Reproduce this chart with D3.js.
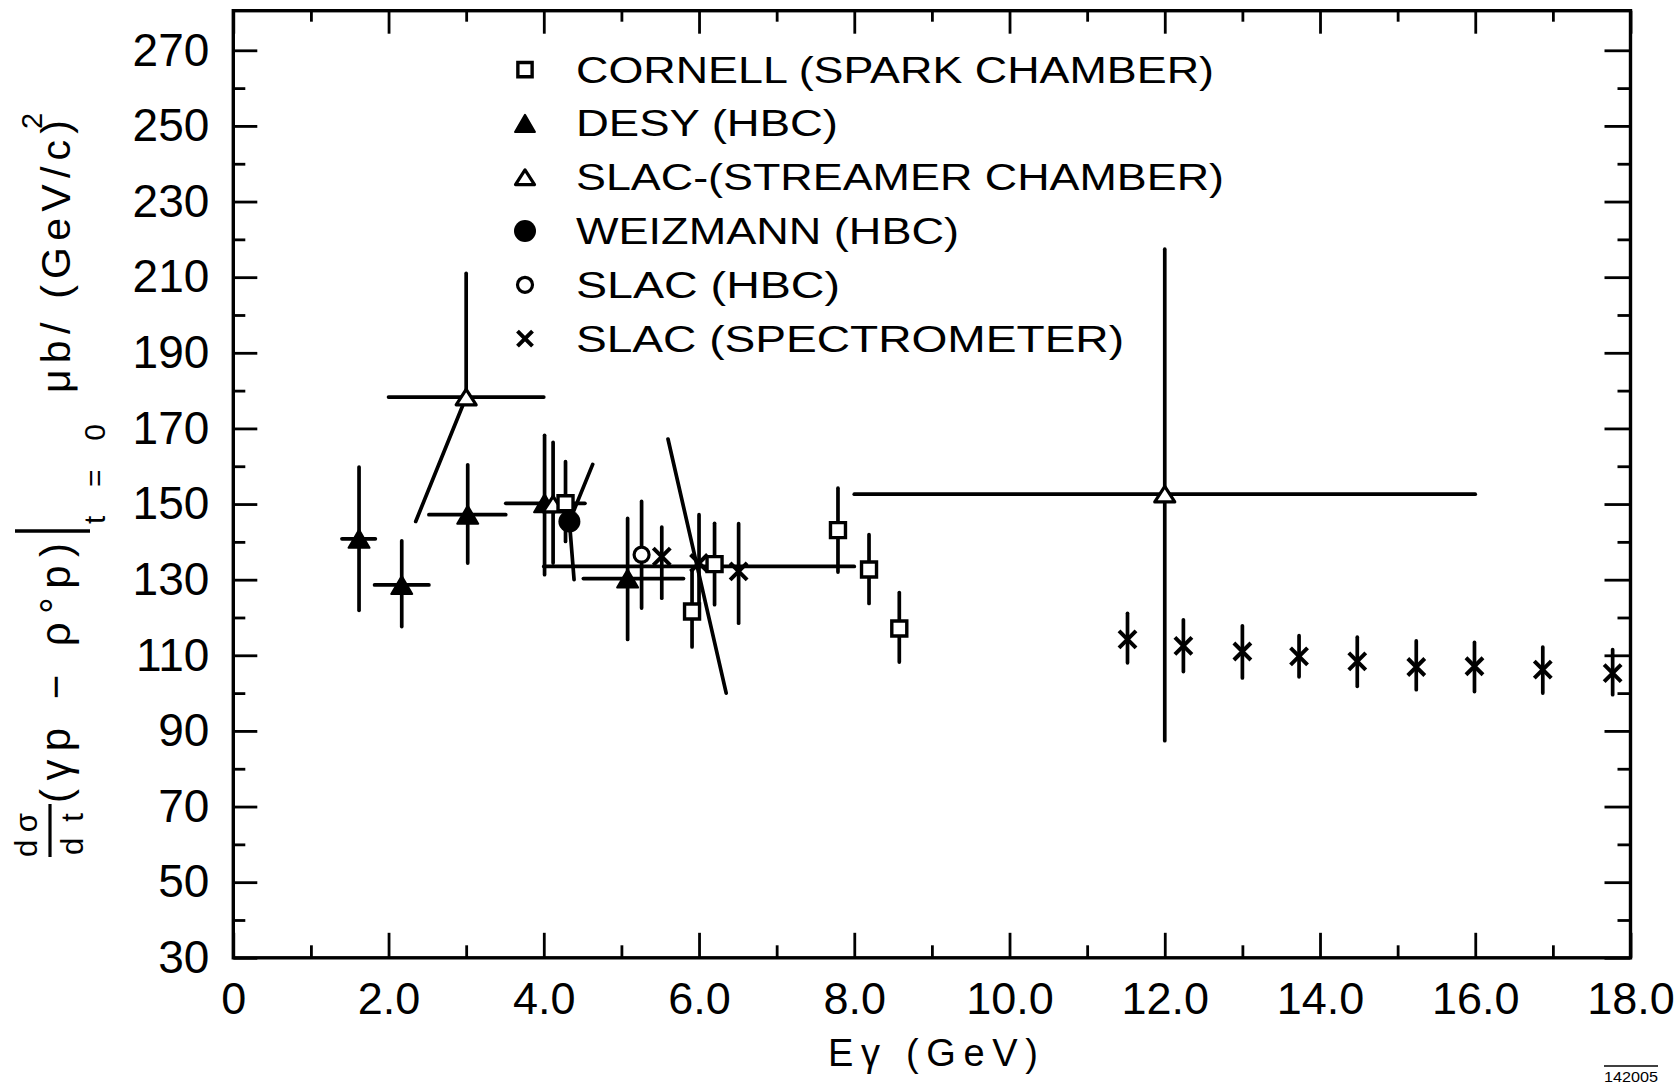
<!DOCTYPE html>
<html>
<head>
<meta charset="utf-8">
<script src="https://cdn.jsdelivr.net/npm/d3@7"></script>
<style>
  html, body { margin: 0; padding: 0; background: #fff; }
  svg { display: block; }
  text { font-family: "Liberation Sans", Arial, sans-serif; fill: #000; }
</style>
</head>
<body>
<svg id="chart" width="1678" height="1086"></svg>
<script>
// ---- data: dσ/dt(γp → ρ°p) at t = 0 versus photon energy ----

// Cornell (spark chamber): open squares
const cornellE  = [4.28, 5.91, 6.20, 7.79, 8.19, 8.58];
const cornellV  = [150.2, 121.6, 134.1, 143.1, 132.7, 117.1];
const cornellLo = [140.1, 112.2, 123.4, 132.0, 123.7, 108.2];
const cornellHi = [161.2, 132.2, 144.9, 154.2, 141.9, 126.6];

// DESY (HBC): filled triangles, with energy bins
const desyE    = [1.62, 2.17, 3.02, 4.01, 5.08];
const desyV    = [140.8, 128.6, 147.2, 150.2, 130.3];
const desyLo   = [121.9, 117.6, 134.4, 131.3, 114.2];
const desyHi   = [159.8, 140.3, 160.4, 168.2, 146.2];
const desyEmin = [1.40, 1.82, 2.52, 3.51, 4.51];
const desyEmax = [1.83, 2.52, 3.51, 4.53, 5.80];

// SLAC streamer chamber: open triangles
const streamE    = [3.0, 4.12, 12.0];
const streamV    = [178.3, 150.0, 152.6];
const streamLo   = [178.3, 134.4, 87.4];
const streamHi   = [211.0, 166.3, 217.4];
const streamEmin = [2.0, 4.12, 8.0];
const streamEmax = [4.0, 4.12, 16.0];

// energy bin drawn without a marker
const binEmin = [4.0];
const binEmax = [8.0];
const binV    = [133.5];

// Weizmann (HBC): filled circle
const weizE = [4.33];
const weizV = [145.4];

// SLAC (HBC): open circle
const slacHbcE  = [5.26];
const slacHbcV  = [136.6];
const slacHbcLo = [122.5];
const slacHbcHi = [150.7];

// SLAC spectrometer: crosses
const specE  = [5.52, 6.00, 6.51, 11.52, 12.24, 13.00, 13.73, 14.48, 15.24, 15.99, 16.87, 17.77];
const specV  = [136.1, 134.4, 132.2, 114.2, 112.5, 111.0, 109.7, 108.4, 106.9, 107.1, 106.2, 105.3];
const specLo = [125.1, 121.7, 118.5, 108.0, 105.7, 104.0, 104.3, 101.8, 100.9, 100.4, 100.0, 99.6];
const specHi = [143.9, 147.2, 144.8, 121.1, 119.4, 117.8, 115.2, 114.8, 113.8, 113.4, 112.2, 111.5];

// slanted error lines
const slantE = [[2.35, 3.0], [4.63, 4.33, 4.39], [5.60, 6.35]];
const slantV = [[145.4, 178.3], [160.5, 145.4, 130.0], [167.2, 100.0]];

// axes
const xMajor = [0, 2, 4, 6, 8, 10, 12, 14, 16, 18];
const xMinor = [1, 3, 5, 7, 9, 11, 13, 15, 17];
const yMajor = [30, 50, 70, 90, 110, 130, 150, 170, 190, 210, 230, 250, 270];
const yMinor = [40, 60, 80, 100, 120, 140, 160, 180, 200, 220, 240, 260];

const legendLabels = [
  "CORNELL (SPARK CHAMBER)",
  "DESY (HBC)",
  "SLAC-(STREAMER CHAMBER)",
  "WEIZMANN (HBC)",
  "SLAC (HBC)",
  "SLAC (SPECTROMETER)"
];
const legendWidths = [638, 262, 648, 383, 264, 548];

// ---- drawing ----
const svg = d3.select("#chart");
const ink = "#000";

const x = d3.scaleLinear().domain([0, 18]).range([233.3, 1630.5]);
const y = d3.scaleLinear().domain([30, 270]).range([957.8, 50.3]);
const frameTop = 10.7;

function styleAxis(g, fontSize) {
  g.select(".domain").remove();
  g.attr("font-size", null).attr("font-family", null);
  g.selectAll(".tick line").attr("stroke", ink).attr("stroke-width", 2.8);
  g.selectAll(".tick text").attr("font-size", fontSize).attr("fill", ink);
}

const xfmt = d => d === 0 ? "0" : d.toFixed(1);

// bottom
svg.append("g").attr("transform", `translate(0,${y(30)})`)
  .call(d3.axisBottom(x).tickValues(xMajor).tickSize(-25).tickSizeOuter(0).tickPadding(24).tickFormat(xfmt))
  .call(g => styleAxis(g, 45));
svg.append("g").attr("transform", `translate(0,${y(30)})`)
  .call(d3.axisBottom(x).tickValues(xMinor).tickSize(-12.5).tickSizeOuter(0).tickFormat(""))
  .call(g => styleAxis(g, 0));
// top
svg.append("g").attr("transform", `translate(0,${frameTop})`)
  .call(d3.axisTop(x).tickValues(xMajor).tickSize(-23).tickSizeOuter(0).tickFormat(""))
  .call(g => styleAxis(g, 0));
svg.append("g").attr("transform", `translate(0,${frameTop})`)
  .call(d3.axisTop(x).tickValues(xMinor).tickSize(-11).tickSizeOuter(0).tickFormat(""))
  .call(g => styleAxis(g, 0));
// left
svg.append("g").attr("transform", `translate(${x(0)},0)`)
  .call(d3.axisLeft(y).tickValues(yMajor).tickSize(-24).tickSizeOuter(0).tickPadding(24).tickFormat(d3.format("d")))
  .call(g => styleAxis(g, 46));
svg.append("g").attr("transform", `translate(${x(0)},0)`)
  .call(d3.axisLeft(y).tickValues(yMinor).tickSize(-12).tickSizeOuter(0).tickFormat(""))
  .call(g => styleAxis(g, 0));
// right
svg.append("g").attr("transform", `translate(${x(18)},0)`)
  .call(d3.axisRight(y).tickValues(yMajor).tickSize(-26).tickSizeOuter(0).tickFormat(""))
  .call(g => styleAxis(g, 0));
svg.append("g").attr("transform", `translate(${x(18)},0)`)
  .call(d3.axisRight(y).tickValues(yMinor).tickSize(-13).tickSizeOuter(0).tickFormat(""))
  .call(g => styleAxis(g, 0));

// frame
svg.append("rect")
  .attr("x", x(0)).attr("y", frameTop)
  .attr("width", x(18) - x(0)).attr("height", y(30) - frameTop)
  .attr("fill", "none").attr("stroke", ink).attr("stroke-width", 3.4);

// ---- error bars ----
const bars = svg.append("g").attr("stroke", ink).attr("stroke-width", 3.7).attr("stroke-linecap", "round");

function vbars(E, Lo, Hi) {
  E.forEach((e, i) => {
    if (Hi[i] === Lo[i]) return;
    bars.append("line").attr("x1", x(e)).attr("x2", x(e)).attr("y1", y(Lo[i])).attr("y2", y(Hi[i]));
  });
}
function hbars(Emin, Emax, V) {
  V.forEach((v, i) => {
    if (Emin[i] === Emax[i]) return;
    bars.append("line").attr("x1", x(Emin[i])).attr("x2", x(Emax[i])).attr("y1", y(v)).attr("y2", y(v));
  });
}
vbars(cornellE, cornellLo, cornellHi);
vbars(desyE, desyLo, desyHi);
hbars(desyEmin, desyEmax, desyV);
vbars(streamE, streamLo, streamHi);
hbars(streamEmin, streamEmax, streamV);
hbars(binEmin, binEmax, binV);
vbars(slacHbcE, slacHbcLo, slacHbcHi);
vbars(specE, specLo, specHi);

const slantLine = d3.line().x(p => x(p[0])).y(p => y(p[1]));
slantE.forEach((es, i) => {
  bars.append("path")
    .attr("d", slantLine(es.map((e, j) => [e, slantV[i][j]])))
    .attr("fill", "none").attr("stroke-linejoin", "round");
});

// ---- markers ----
const tri = (w, h) => `M0,${-h / 2}L${w / 2},${h / 2}L${-w / 2},${h / 2}Z`;
const sq = s => `M${-s / 2},${-s / 2}h${s}v${s}h${-s}Z`;
const cross = a => `M${-a},${-a}L${a},${a}M${-a},${a}L${a},${-a}`;

const marks = svg.append("g");
function drawMarker(g, kind, cx, cy, big) {
  const k = big ? 1 : 0.95;
  if (kind === "square") {
    g.append("path").attr("d", sq(15 * k)).attr("transform", `translate(${cx},${cy})`)
      .attr("fill", "#fff").attr("stroke", ink).attr("stroke-width", 3.4);
  } else if (kind === "ftri") {
    g.append("path").attr("d", tri(21 * k, 18 * k)).attr("transform", `translate(${cx},${cy})`)
      .attr("fill", ink).attr("stroke", ink).attr("stroke-width", 2).attr("stroke-linejoin", "round");
  } else if (kind === "otri") {
    g.append("path").attr("d", tri(20 * k, 15.5 * k)).attr("transform", `translate(${cx},${cy})`)
      .attr("fill", "#fff").attr("stroke", ink).attr("stroke-width", 3.2).attr("stroke-linejoin", "round");
  } else if (kind === "fcirc") {
    g.append("circle").attr("cx", cx).attr("cy", cy).attr("r", 11).attr("fill", ink);
  } else if (kind === "ocirc") {
    g.append("circle").attr("cx", cx).attr("cy", cy).attr("r", 7.5)
      .attr("fill", "#fff").attr("stroke", ink).attr("stroke-width", 3.2);
  } else if (kind === "cross") {
    g.append("path").attr("d", cross(big ? 8.5 : 7.5)).attr("transform", `translate(${cx},${cy})`)
      .attr("fill", "none").attr("stroke", ink).attr("stroke-width", 4).attr("stroke-linecap", "butt");
  }
}

desyE.forEach((e, i) => drawMarker(marks, "ftri", x(e), y(desyV[i]), true));
streamE.forEach((e, i) => drawMarker(marks, "otri", x(e), y(streamV[i]), true));
slacHbcE.forEach((e, i) => drawMarker(marks, "ocirc", x(e), y(slacHbcV[i]), true));
specE.forEach((e, i) => drawMarker(marks, "cross", x(e), y(specV[i]), true));
cornellE.forEach((e, i) => drawMarker(marks, "square", x(e), y(cornellV[i]), true));
weizE.forEach((e, i) => drawMarker(marks, "fcirc", x(e), y(weizV[i]), true));

// ---- legend ----
const legendKinds = ["square", "ftri", "otri", "fcirc", "ocirc", "cross"];
const legend = svg.append("g");
legendLabels.forEach((lab, i) => {
  const cy = 69.6 + 53.8 * i;
  drawMarker(legend, legendKinds[i], 525, cy, false);
  legend.append("text")
    .attr("x", 576).attr("y", cy + 13)
    .attr("font-size", 37)
    .attr("textLength", legendWidths[i]).attr("lengthAdjust", "spacingAndGlyphs")
    .text(lab);
});

// ---- axis titles ----
svg.append("text")
  .attr("x", 828).attr("y", 1066)
  .attr("font-size", 38)
  .attr("textLength", 210).attr("lengthAdjust", "spacing")
  .text("Eγ (GeV)");

const ylab = svg.append("g").attr("transform", "translate(70,860) rotate(-90)");
ylab.append("text").attr("x", 3).attr("y", -33).attr("font-size", 31)
  .attr("textLength", 44).attr("lengthAdjust", "spacing").text("dσ");
ylab.append("line").attr("x1", 3).attr("x2", 56).attr("y1", -20).attr("y2", -20)
  .attr("stroke", ink).attr("stroke-width", 3.2);
ylab.append("text").attr("x", 5).attr("y", 13).attr("font-size", 31)
  .attr("textLength", 42).attr("lengthAdjust", "spacing").text("dt");
ylab.append("text").attr("x", 57).attr("y", 0).attr("font-size", 42)
  .attr("textLength", 260).attr("lengthAdjust", "spacing").text("(γp − ρ°p)");
ylab.append("line").attr("x1", 329).attr("x2", 329).attr("y1", -55).attr("y2", 20)
  .attr("stroke", ink).attr("stroke-width", 3.4);
ylab.append("text").attr("x", 336).attr("y", 35).attr("font-size", 30)
  .attr("textLength", 100).attr("lengthAdjust", "spacing").text("t = 0");
ylab.append("text").attr("x", 467).attr("y", 0).attr("font-size", 41)
  .attr("textLength", 273).attr("lengthAdjust", "spacing").text("μb/ (GeV/c)");
ylab.append("text").attr("x", 731).attr("y", -28).attr("font-size", 29).text("2");

// figure number
svg.append("line").attr("x1", 1604).attr("x2", 1658).attr("y1", 1066).attr("y2", 1066)
  .attr("stroke", ink).attr("stroke-width", 1.5);
svg.append("text").attr("x", 1604).attr("y", 1082).attr("font-size", 15)
  .attr("textLength", 54).attr("lengthAdjust", "spacingAndGlyphs").text("142005");
</script>
</body>
</html>
